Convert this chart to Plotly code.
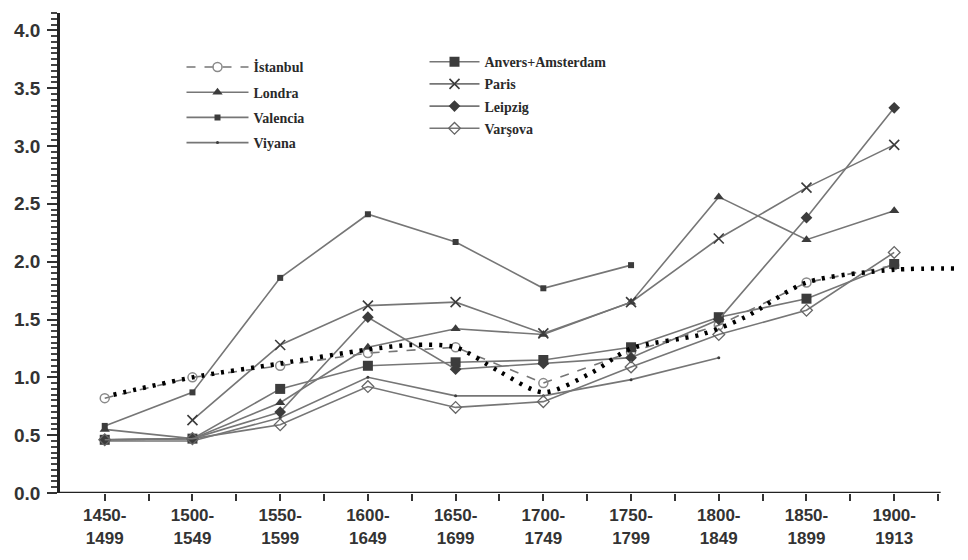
import plotly.graph_objects as go

periods = ["1450-<br>1499", "1500-<br>1549", "1550-<br>1599", "1600-<br>1649", "1650-<br>1699",
           "1700-<br>1749", "1750-<br>1799", "1800-<br>1849", "1850-<br>1899", "1900-<br>1913"]

istanbul = [0.82, 1.00, 1.10, 1.21, 1.26, 0.95, 1.22, 1.45, 1.82, 1.97]
londra = [0.55, 0.47, 0.78, 1.26, 1.42, 1.37, 1.65, 2.56, 2.19, 2.44]
valencia = [0.58, 0.87, 1.86, 2.41, 2.17, 1.77, 1.97, None, None, None]
viyana = [0.45, 0.45, 0.65, 1.00, 0.84, 0.84, 0.98, 1.17, None, None]
anvers = [0.46, 0.47, 0.90, 1.10, 1.13, 1.15, 1.26, 1.52, 1.68, 1.98]
paris = [None, 0.63, 1.28, 1.62, 1.65, 1.38, 1.65, 2.20, 2.64, 3.01]
leipzig = [0.46, 0.47, 0.70, 1.52, 1.07, 1.12, 1.17, 1.50, 2.38, 3.33]
varsova = [0.46, 0.47, 0.59, 0.92, 0.74, 0.79, 1.09, 1.37, 1.58, 2.08]

# hand-drawn dotted trend (x in period index units)
trend_x = [0.1, 1, 2, 3, 3.5, 4, 4.5, 5, 5.55, 6, 6.8, 7.3, 8, 9, 9.75]
trend_y = [0.85, 1.00, 1.12, 1.24, 1.28, 1.26, 1.05, 0.87, 1.04, 1.25, 1.37, 1.52, 1.82, 1.93, 1.94]

idx = list(range(len(periods)))
LINE = "#767676"
MARK = "#3c3c3c"

fig = go.Figure()


def add_series(name, vals, symbol, size, legend, dash="solid", mcolor=MARK, mline=0):
    fig.add_trace(go.Scatter(
        x=idx, y=vals, name=name, mode="lines+markers", legend=legend, legendgroup=name,
        line=dict(color=LINE, width=1.6, dash=dash),
        marker=dict(symbol=symbol, size=size, color=mcolor, line=dict(color=mcolor, width=mline)),
    ))


add_series("İstanbul", istanbul, "circle-open", 9, "legend", dash="dash", mcolor="#8a8a8a", mline=1.5)
add_series("Londra", londra, "triangle-up", 9, "legend")
add_series("Valencia", valencia, "square", 6, "legend")
add_series("Viyana", viyana, "circle", 3, "legend")
add_series("Anvers+Amsterdam", anvers, "square", 10, "legend2")
add_series("Paris", paris, "x-thin-open", 10, "legend2", mline=1.6)
add_series("Leipzig", leipzig, "diamond", 9, "legend2")
add_series("Varşova", varsova, "diamond-open", 9, "legend2", mcolor="#666666", mline=1.3)

fig.add_trace(go.Scatter(
    x=trend_x, y=trend_y, mode="lines", showlegend=False, hoverinfo="skip",
    line=dict(color="black", width=4.5, dash="3px,7px", shape="spline", smoothing=0.8),
))

# x axis line
fig.add_shape(type="line", xref="x", yref="y", x0=-0.51, x1=9.53, y0=0, y1=0,
              line=dict(color="#222222", width=2.5))

legend_font = dict(family="Liberation Serif, DejaVu Serif, serif", size=14, color="#2a2a2a", weight="bold")

fig.update_layout(
    width=968, height=560,
    paper_bgcolor="white", plot_bgcolor="white",
    margin=dict(l=52, r=16, t=5, b=75),
    font=dict(family="Liberation Sans Narrow, Liberation Sans, Arial, sans-serif", color="#333333"),
    legend=dict(x=0.135, y=0.92, font=legend_font, bgcolor="rgba(0,0,0,0)",
                tracegroupgap=4, itemwidth=62, xanchor="left", yanchor="top"),
    legend2=dict(x=0.405, y=0.931, font=legend_font, bgcolor="rgba(0,0,0,0)",
                 tracegroupgap=1, itemwidth=50, xanchor="left", yanchor="top"),
    xaxis=dict(
        range=[-0.51, 9.75], tickvals=idx,
        ticktext=["<b>" + p.replace("<br>", "</b><br><b>") + "</b>" for p in periods],
        showgrid=False, zeroline=False, showline=False,
        ticks="outside", ticklen=7, tickwidth=1.5, tickcolor="#333333",
        tickfont=dict(size=17, color="#333333"),
        minor=dict(tickvals=[i + 0.5 for i in idx], ticks="outside", ticklen=7,
                   tickwidth=1.5, tickcolor="#333333"),
    ),
    yaxis=dict(
        range=[0, 4.15], tickvals=[0, 0.5, 1, 1.5, 2, 2.5, 3, 3.5, 4], tickformat=".1f",
        showgrid=False, zeroline=False, showline=True, linecolor="#222222", linewidth=2.5,
        ticks="outside", ticklen=10, tickwidth=2, tickcolor="#333333",
        tickfont=dict(size=19, color="#333333", weight="bold"), ticklabelstandoff=3,
        minor=dict(dtick=0.05, ticks="outside", ticklen=6, tickwidth=1.5, tickcolor="#444444"),
    ),
)

fig.write_html("out.html")
